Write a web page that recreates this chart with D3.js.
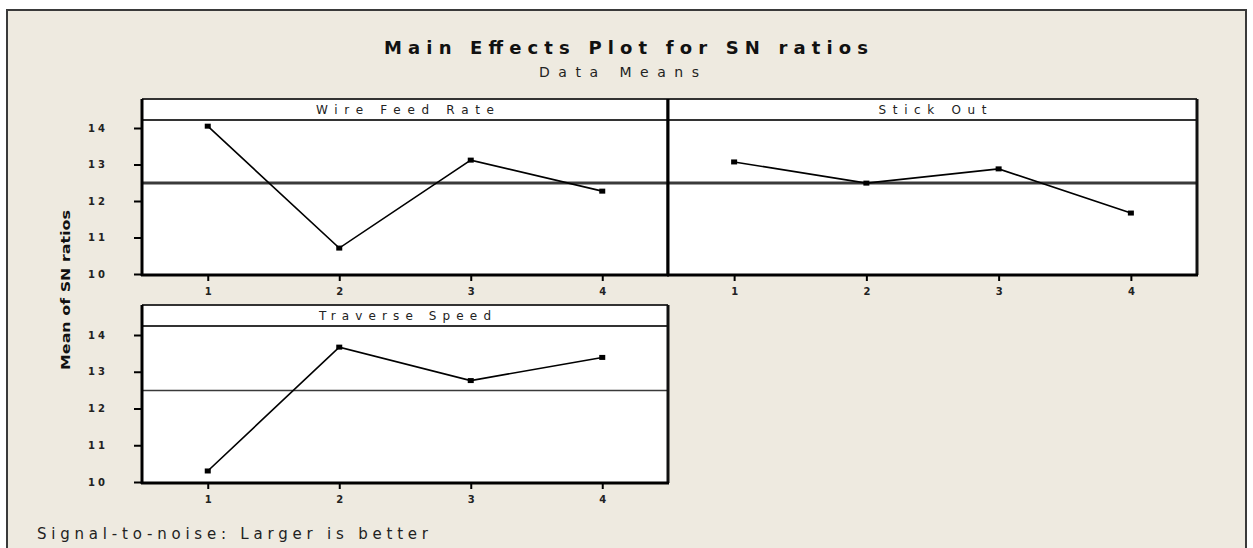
<!DOCTYPE html>
<html>
<head>
<meta charset="UTF-8">
<title>Main Effects Plot for SN ratios</title>
<script src="https://cdn.jsdelivr.net/npm/d3@7/dist/d3.min.js"></script>
<style>
  * { margin: 0; padding: 0; }
  body { background: #fff; width: 1253px; height: 548px; overflow: hidden; font-family: 'DejaVu Sans', sans-serif; }
  svg { display: block; }
</style>
</head>
<body>
<svg id="chart" width="1253" height="548"></svg>
<script>
// levels on the x axis
const levels = [1, 2, 3, 4];
// mean SN ratio per level
const wireFeedRate = [14.05, 10.71, 13.12, 12.27];
const stickOut = [13.07, 12.49, 12.88, 11.67];
const traverseSpeed = [10.30, 13.67, 12.76, 13.39];
const overallMean = 12.49;
const yTicks = [10, 11, 12, 13, 14];
const yTickLabels = ['10', '11', '12', '13', '14'];

const panels = [
  { name: 'Wire Feed Rate', values: wireFeedRate, x0: 142, x1: 668, y0: 99, y1: 275, refW: 3, tickLabels: true, labelW: 178 },
  { name: 'Stick Out', values: stickOut, x0: 668, x1: 1197, y0: 99, y1: 275, refW: 3, tickLabels: false, labelW: 108 },
  { name: 'Traverse Speed', values: traverseSpeed, x0: 142, x1: 668, y0: 305, y1: 483, refW: 1.6, tickLabels: true, labelW: 172 }
];

const svg = d3.select('#chart');

// outer frame
svg.append('rect')
  .attr('x', 7).attr('y', 10).attr('width', 1239).attr('height', 560)
  .attr('fill', '#eeeae0').attr('stroke', '#3a3a3a').attr('stroke-width', 2);

// titles
svg.append('text')
  .attr('x', 626).attr('y', 54).attr('text-anchor', 'middle')
  .attr('font-size', 18).attr('font-weight', 'bold').attr('fill', '#111')
  .attr('textLength', 484).attr('lengthAdjust', 'spacing')
  .text('Main Effects Plot for SN ratios');
svg.append('text')
  .attr('x', 619).attr('y', 77).attr('text-anchor', 'middle')
  .attr('font-size', 14).attr('fill', '#222')
  .attr('textLength', 160).attr('lengthAdjust', 'spacing')
  .text('Data Means');

// y axis title
svg.append('text')
  .attr('transform', 'translate(70,290) rotate(-90)')
  .attr('text-anchor', 'middle')
  .attr('font-size', 12).attr('font-weight', 'bold').attr('fill', '#111')
  .attr('textLength', 160).attr('lengthAdjust', 'spacingAndGlyphs')
  .text('Mean of SN ratios');

// footnote
svg.append('text')
  .attr('x', 37).attr('y', 539)
  .attr('font-size', 15).attr('fill', '#222')
  .attr('textLength', 391).attr('lengthAdjust', 'spacing')
  .text('Signal-to-noise: Larger is better');

panels.forEach(p => {
  const stripH = 21;
  const x = d3.scaleLinear().domain([0.5, 4.5]).range([p.x0, p.x1]);
  const y = d3.scaleLinear().domain([10, 14]).range([p.y1 - 1, p.y0 + stripH + 8 + (p.y1 - p.y0 - 176) * 0.5]);
  const g = svg.append('g');

  // panel background
  g.append('rect')
    .attr('x', p.x0).attr('y', p.y0).attr('width', p.x1 - p.x0).attr('height', p.y1 - p.y0)
    .attr('fill', '#fff');

  // strip line and label
  g.append('line')
    .attr('x1', p.x0).attr('x2', p.x1).attr('y1', p.y0 + stripH).attr('y2', p.y0 + stripH)
    .attr('stroke', '#333').attr('stroke-width', 2);
  g.append('text')
    .attr('x', (p.x0 + p.x1) / 2).attr('y', p.y0 + 15).attr('text-anchor', 'middle')
    .attr('font-size', 12).attr('fill', '#222')
    .attr('textLength', p.labelW).attr('lengthAdjust', 'spacing')
    .text(p.name);

  // reference line at overall mean
  g.append('line')
    .attr('x1', p.x0).attr('x2', p.x1).attr('y1', y(overallMean)).attr('y2', y(overallMean))
    .attr('stroke', '#3a3a3a').attr('stroke-width', p.refW);

  // data line
  const pts = levels.map((l, i) => [l, p.values[i]]);
  g.append('path')
    .datum(pts)
    .attr('fill', 'none').attr('stroke', '#000').attr('stroke-width', 1.6)
    .attr('d', d3.line().x(d => x(d[0])).y(d => y(d[1])));
  g.selectAll('rect.pt').data(pts).join('rect')
    .attr('class', 'pt')
    .attr('x', d => x(d[0]) - 3).attr('y', d => y(d[1]) - 2.5)
    .attr('width', 6).attr('height', 5).attr('fill', '#000');

  // frame: thin top/right, thick left/bottom
  g.append('line').attr('x1', p.x0).attr('x2', p.x1).attr('y1', p.y0).attr('y2', p.y0)
    .attr('stroke', '#333').attr('stroke-width', 2);
  g.append('line').attr('x1', p.x1).attr('x2', p.x1).attr('y1', p.y0).attr('y2', p.y1)
    .attr('stroke', '#111').attr('stroke-width', 3);
  g.append('line').attr('x1', p.x0).attr('x2', p.x0).attr('y1', p.y0).attr('y2', p.y1 + 1)
    .attr('stroke', '#000').attr('stroke-width', 3);
  g.append('line').attr('x1', p.x0 - 1).attr('x2', p.x1 + 1).attr('y1', p.y1).attr('y2', p.y1)
    .attr('stroke', '#000').attr('stroke-width', 3);

  // x axis
  const xa = g.append('g').attr('transform', `translate(0,${p.y1 + 1})`)
    .call(d3.axisBottom(x).tickValues(levels).tickSize(5).tickPadding(7).tickFormat(d3.format('d')));
  xa.select('.domain').remove();
  xa.selectAll('line').attr('stroke', '#000').attr('stroke-width', 2);
  xa.selectAll('text').attr('font-size', 10).attr('font-weight', 'bold').attr('fill', '#222')
    .attr('font-family', "'DejaVu Sans', sans-serif");

  // y axis (left column only)
  if (p.tickLabels) {
    const ya = g.append('g').attr('transform', `translate(${p.x0 - 1},0)`)
      .call(d3.axisLeft(y).tickValues(yTicks).tickSize(7).tickPadding(26)
        .tickFormat((d, i) => yTickLabels[i]));
    ya.select('.domain').remove();
    ya.selectAll('line').attr('stroke', '#000').attr('stroke-width', 2);
    ya.selectAll('text').attr('font-size', 10).attr('font-weight', 'bold').attr('fill', '#222')
      .attr('letter-spacing', 3).attr('font-family', "'DejaVu Sans', sans-serif");
  }
});
</script>
</body>
</html>
